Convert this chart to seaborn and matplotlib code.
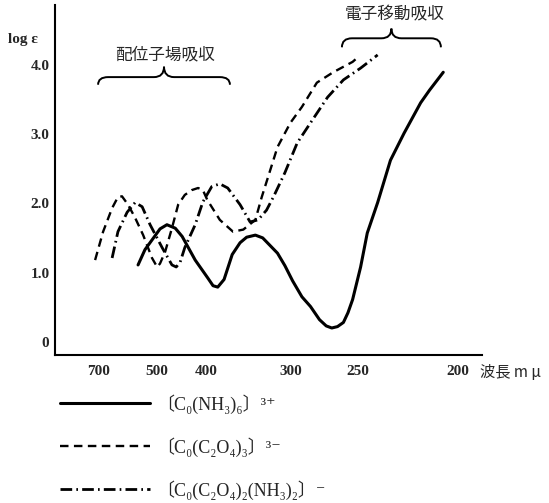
import numpy as np
import pandas as pd
import seaborn as sns
import matplotlib
matplotlib.use("Agg")
import matplotlib.pyplot as plt
from matplotlib.path import Path
from matplotlib.patches import PathPatch

# wavelength (m mu) and log epsilon
solid_wl = [550, 530, 511, 491, 475, 457, 443, 419, 398, 390, 383, 374, 363, 353, 345,
            335, 327, 312, 305, 298, 290, 283, 276, 271, 267, 263, 259, 256, 253,
            248, 244, 238, 231, 224, 216, 212, 206]
solid_le = [1.11, 1.33, 1.47, 1.63, 1.69, 1.64, 1.52, 1.18, 0.92, 0.81, 0.79, 0.90, 1.26,
            1.43, 1.51, 1.54, 1.50, 1.28, 1.10, 0.88, 0.65, 0.51, 0.32, 0.23, 0.20, 0.22,
            0.28, 0.42, 0.61, 1.08, 1.57, 2.01, 2.62, 3.01, 3.45, 3.63, 3.89]

dash_wl = [719, 680, 641, 618, 603, 582, 559, 535, 511, 498, 491, 479, 464, 451, 438, 425,
           414, 406, 399, 380, 362, 349, 335, 328, 320, 312, 300, 290, 278, 266, 253, 250]
dash_le = [1.18, 1.59, 1.93, 2.09, 2.10, 1.98, 1.79, 1.54, 1.21, 1.08, 1.13, 1.30, 1.64,
           1.98, 2.12, 2.19, 2.22, 2.19, 2.05, 1.76, 1.59, 1.62, 1.76, 2.09, 2.44, 2.81,
           3.16, 3.39, 3.74, 3.89, 4.04, 4.10]

dd_wl = [641, 618, 585, 559, 538, 516, 486, 464, 455, 447, 438, 419, 406, 392, 380, 369,
         353, 341, 332, 323, 316, 305, 294, 283, 270, 259, 248, 238]
dd_le = [1.21, 1.59, 1.87, 2.01, 1.95, 1.69, 1.36, 1.11, 1.08, 1.15, 1.36, 1.69, 2.02,
         2.24, 2.28, 2.22, 1.98, 1.73, 1.76, 1.90, 2.09, 2.44, 2.87, 3.16, 3.53, 3.78,
         3.95, 4.14]

labels = ["〔C₀(NH₃)₆〕³⁺", "〔C₀(C₂O₄)₃〕³⁻", "〔C₀(C₂O₄)₂(NH₃)₂〕⁻"]
wl_ticks = [700, 500, 400, 300, 250, 200]
y_ticks = [0, 1, 2, 3, 4]
y_ticklabels = ["0", "1.0", "2.0", "3.0", "4.0"]

sns.set_style("white")
plt.rcParams["font.family"] = ["Liberation Serif", "DejaVu Serif", "Noto Sans CJK JP"]

fig = plt.figure(figsize=(5.49, 5.03), dpi=100)
ax = fig.add_axes([0.1002, 0.2942, 0.7778, 0.6958])

styles = [
    (solid_wl, solid_le, "-", 2.2),
    (dash_wl, dash_le, (0, (3.6, 2.3)), 1.7),
    (dd_wl, dd_le, (0, (4.2, 1.5, 0.6, 1.5)), 2.0),
]
for (wl, le, ls, lw), lab in zip(styles, labels):
    df = pd.DataFrame({"wn": 1e4 / np.array(wl, dtype=float), "loge": le})
    sns.lineplot(data=df, x="wn", y="loge", ax=ax, color="black", linewidth=lw,
                 linestyle=ls, estimator=None, sort=False, legend=False)

ax.set_xlim(9.92, 52.4)
ax.set_ylim(-0.19, 4.86)
ax.set_xticks([1e4 / w for w in wl_ticks])
ax.set_xticklabels([str(w) for w in wl_ticks], fontweight="bold", fontsize=11)
ax.set_yticks(y_ticks)
ax.set_yticklabels(y_ticklabels, fontweight="bold", fontsize=11)
ax.set_xlabel("")
ax.set_ylabel("")
ax.tick_params(axis="both", direction="in", length=10, width=1.5, color="black")
ax.tick_params(axis="x", pad=7)
ax.tick_params(axis="y", pad=4)
sns.despine(ax=ax)
for s in ["left", "bottom"]:
    ax.spines[s].set_linewidth(1.5)
    ax.spines[s].set_color("black")


def brace(ax, wl0, wl1, y_end, y_flat, y_tip, r=1.0):
    x0, x1 = 1e4 / wl0, 1e4 / wl1
    xm = (x0 + x1) / 2
    verts = [(x0, y_end), (x0, y_flat), (x0 + r, y_flat),
             (xm - r, y_flat), (xm, y_flat), (xm, y_tip),
             (xm, y_flat), (xm + r, y_flat),
             (x1 - r, y_flat), (x1, y_flat), (x1, y_end)]
    codes = [Path.MOVETO, Path.CURVE3, Path.CURVE3,
             Path.LINETO, Path.CURVE3, Path.CURVE3,
             Path.CURVE3, Path.CURVE3,
             Path.LINETO, Path.CURVE3, Path.CURVE3]
    ax.add_patch(PathPatch(Path(verts, codes), fill=False, lw=1.4,
                           color="black", clip_on=False))


brace(ax, 704, 366, 3.71, 3.82, 3.97)
brace(ax, 260, 207, 4.25, 4.38, 4.52)
ax.text(1e4 / 479, 4.14, "配位子場吸収", ha="center", va="center", fontsize=12,
        family=["Noto Sans CJK JP"], clip_on=False)
ax.text(1e4 / 229, 4.72, "電子移動吸収", ha="center", va="center", fontsize=12,
        family=["Noto Sans CJK JP"], clip_on=False)

fig.text(8 / 549, 1 - 39 / 503, "log ε", fontweight="bold", fontsize=11, va="center")
fig.text(480 / 549, 1 - 372 / 503, "波長 m μ", fontsize=11, va="center",
         family=["Noto Sans CJK JP", "DejaVu Serif"])

fig.legend(ax.lines[:3], labels, loc="upper left", bbox_to_anchor=(60 / 549, 1 - 394 / 503),
           frameon=False, handlelength=5.0, handletextpad=0.3, labelspacing=1.3,
           borderpad=0, borderaxespad=0,
           prop={"family": ["Liberation Serif", "DejaVu Serif", "Noto Sans CJK JP"], "size": 13})

fig.savefig("out.png", dpi=100)
